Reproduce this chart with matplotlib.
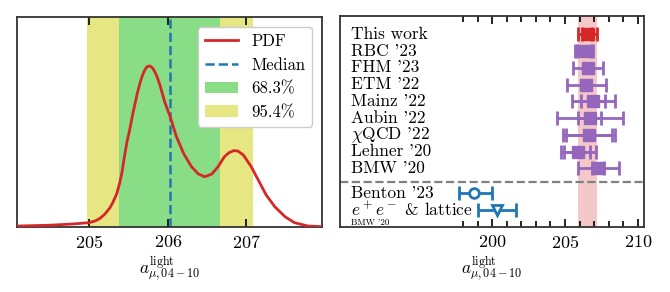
import matplotlib
matplotlib.use('Agg')
import matplotlib.pyplot as plt
from matplotlib.ticker import FixedLocator

plt.rcParams.update({
    'font.family': 'serif',
    'font.serif': ['cmr10'],
    'mathtext.fontset': 'cm',
    'axes.formatter.use_mathtext': True,
    'font.size': 12,
})

# ---- left panel: PDF (arbitrary units, peak ~ 1)
pdf_x = [204.09, 204.50, 204.80, 205.00, 205.08, 205.14, 205.20, 205.26, 205.30,
         205.35, 205.39, 205.42, 205.45, 205.48, 205.52, 205.55, 205.58, 205.61,
         205.64, 205.67, 205.70, 205.73, 205.76, 205.78, 205.81, 205.84, 205.87,
         205.90, 205.93, 205.96, 206.03, 206.11, 206.20, 206.30, 206.39, 206.47,
         206.56, 206.64, 206.72, 206.78, 206.84, 206.89, 206.96, 207.06, 207.15,
         207.25, 207.36, 207.49, 207.61, 207.78, 207.96]
pdf_y = [0.006, 0.011, 0.019, 0.027, 0.038, 0.054, 0.080, 0.116, 0.150,
         0.205, 0.275, 0.345, 0.440, 0.525, 0.613, 0.690, 0.758, 0.825,
         0.882, 0.930, 0.968, 0.992, 1.000, 0.998, 0.985, 0.960, 0.925,
         0.882, 0.830, 0.778, 0.685, 0.561, 0.458, 0.375, 0.329, 0.312,
         0.329, 0.375, 0.437, 0.462, 0.474, 0.472, 0.447, 0.375, 0.292,
         0.199, 0.126, 0.064, 0.027, 0.006, 0.002]
median = 206.03
ci68 = (205.38, 206.67)
ci95 = (204.97, 207.08)

# ---- right panel: comparison of results
labels = ["This work", "RBC '23", "FHM '23", "ETM '22", "Mainz '22", "Aubin '22",
          r"$\chi$QCD '22", "Lehner '20", "BMW '20"]
centers = [206.55, 206.32, 206.55, 206.46, 206.95, 206.71, 206.66, 205.92, 207.29]
outer_lo = [205.91, 205.68, 205.56, 205.12, 205.48, 204.44, 204.84, 204.73, 205.93]
outer_hi = [207.17, 206.96, 207.58, 207.80, 208.47, 208.97, 208.47, 207.14, 208.72]
inner_lo = [206.16, 205.82, None, None, 206.13, 205.93, 205.05, 204.92, 206.89]
inner_hi = [206.89, 206.82, None, None, 207.78, 207.45, 208.24, 206.75, 207.66]

pheno_labels = ["Benton '23", r"$e^+e^-$ & lattice"]
pheno_centers = [198.77, 200.34]
pheno_lo = [197.72, 199.00]
pheno_hi = [199.96, 201.67]
pheno_markers = ['o', 'v']

xlabel = r'$a_{\mu,04-10}^{\rm light}$'
SPINE = '#333333'

fig = plt.figure(figsize=(6.7, 2.92), dpi=100)
ax1 = fig.add_axes([0.0261, 0.2226, 0.4545, 0.7192])
ax2 = fig.add_axes([0.5075, 0.2226, 0.4537, 0.7226])

# left
ax1.axvspan(*ci95, color='#e6e683', lw=0, label='95.4%', zorder=0)
ax1.axvspan(*ci68, color='#88dd86', lw=0, label='68.3%', zorder=1)
ax1.plot(pdf_x, pdf_y, color='tab:red', lw=2, label='PDF', zorder=3)
ax1.axvline(median, color='tab:blue', ls='--', lw=1.8, label='Median', zorder=2)
ax1.set_xlim(204.09, 207.96)
ax1.set_ylim(0, 1.304)
ax1.set_yticks([])
ax1.set_xticks([205, 206, 207])
ax1.tick_params(direction='in', top=True, bottom=True, length=6, width=1.2,
                labelsize=13, pad=5)
ax1.set_xlabel(xlabel, fontsize=12.5, labelpad=3)
h, l = ax1.get_legend_handles_labels()
order = [l.index(k) for k in ['PDF', 'Median', '68.3%', '95.4%']]
ax1.legend([h[i] for i in order], [l[i] for i in order], loc='upper right',
           fontsize=12, framealpha=1, handlelength=2.0, labelspacing=0.5,
           borderaxespad=0.6)

# right
ys = list(range(len(labels)))
ys_ph = [len(labels) + 0.5 + i for i in range(len(pheno_labels))]
ax2.axvspan(outer_lo[0], outer_hi[0], color='tab:red', alpha=0.25, lw=0, zorder=0)
for i, (c, y) in enumerate(zip(centers, ys)):
    col = 'tab:red' if i == 0 else 'tab:purple'
    ax2.errorbar(c, y, xerr=[[c - outer_lo[i]], [outer_hi[i] - c]], fmt='s', color=col,
                 ms=8, capsize=5, elinewidth=2, capthick=2, zorder=3)
    if inner_lo[i] is not None:
        ax2.errorbar(c, y, xerr=[[c - inner_lo[i]], [inner_hi[i] - c]], fmt='none',
                     ecolor=col, capsize=5, elinewidth=2, capthick=2, zorder=3)
    ax2.text(0.036, y, labels[i], transform=ax2.get_yaxis_transform(),
             va='center', ha='left', fontsize=12.5)
for i, (c, y) in enumerate(zip(pheno_centers, ys_ph)):
    ax2.errorbar(c, y, xerr=[[c - pheno_lo[i]], [pheno_hi[i] - c]], fmt=pheno_markers[i],
                 color='tab:blue', mfc='white', mew=2, ms=7, capsize=5, elinewidth=2,
                 capthick=2, zorder=3)
    ax2.text(0.036, y, pheno_labels[i], transform=ax2.get_yaxis_transform(),
             va='center', ha='left', fontsize=12.5)
ax2.text(0.036, ys_ph[-1] + 0.72, "BMW '20", transform=ax2.get_yaxis_transform(),
         va='center', ha='left', fontsize=6.5)
ax2.axhline(len(labels) - 0.2, color='gray', ls='--', lw=1.6)

ax2.set_xlim(189.55, 210.43)
ax2.set_ylim(11.5, -1.09)
ax2.set_yticks([])
ax2.set_xticks([200, 205, 210])
ax2.xaxis.set_minor_locator(FixedLocator(list(range(198, 211))))
ax2.tick_params(which='both', direction='in', top=True, bottom=True, width=1.2,
                labelsize=13, pad=5)
ax2.tick_params(which='major', length=6)
ax2.tick_params(which='minor', length=4)
ax2.set_xlabel(xlabel, fontsize=12.5, labelpad=3)

for ax in (ax1, ax2):
    for s in ax.spines.values():
        s.set_color(SPINE)
        s.set_linewidth(1.3)

fig.savefig('out.png', dpi=100)
